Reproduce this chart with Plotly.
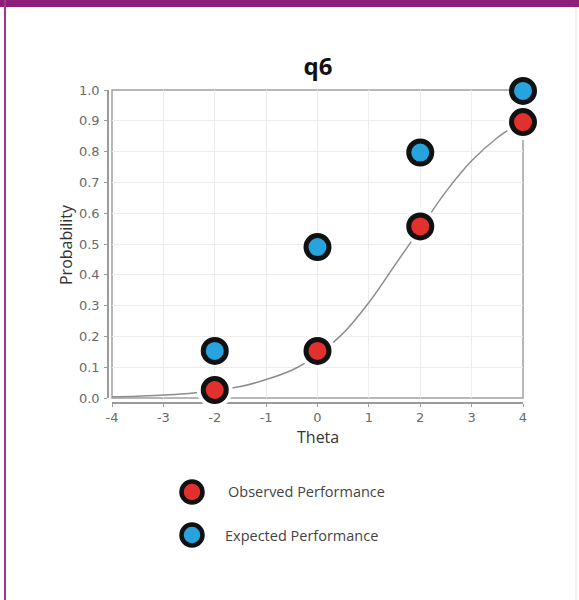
import plotly.graph_objects as go

# Item characteristic data for item q6
theta_points = [-2, 0, 2, 4]
observed = [0.026, 0.153, 0.557, 0.896]
expected = [0.153, 0.49, 0.797, 0.997]

curve_theta = [-4, -3.5, -3, -2.5, -2, -1.5, -1, -0.5, 0, 0.5, 1, 1.5, 2, 2.5, 3, 3.5, 4]
curve_prob = [0.004, 0.006, 0.010, 0.015, 0.024, 0.037, 0.060, 0.090, 0.140, 0.210,
              0.310, 0.430, 0.550, 0.670, 0.770, 0.845, 0.900]

series_names = ["Observed Performance", "Expected Performance"]
series_colors = ["#e2302f", "#27a3de"]

x_ticks = [-4, -3, -2, -1, 0, 1, 2, 3, 4]
y_ticks = [0.0, 0.1, 0.2, 0.3, 0.4, 0.5, 0.6, 0.7, 0.8, 0.9, 1.0]

W, H = 579, 600


def px(x):
    return x / W


def py(y):
    return 1 - y / H


fig = go.Figure()

# fitted curve
fig.add_trace(go.Scatter(
    x=curve_theta, y=curve_prob, mode="lines", line_shape="spline",
    line=dict(color="#8c8c8c", width=1.5), hoverinfo="skip", showlegend=False,
))

# white halo so the curve breaks around the observed points
fig.add_trace(go.Scatter(
    x=theta_points, y=observed, mode="markers",
    marker=dict(size=36, color="white", line=dict(width=0)),
    cliponaxis=False, hoverinfo="skip", showlegend=False,
))

for name, vals, col in zip(series_names, [observed, expected], series_colors):
    fig.add_trace(go.Scatter(
        x=theta_points, y=vals, mode="markers", name=name,
        marker=dict(size=23, color=col, line=dict(color="#111111", width=5)),
        cliponaxis=False, showlegend=False,
    ))

x_dom = [px(112), px(523)]
y_dom = [py(398), py(90)]

tick_font = dict(family="DejaVu Sans", size=13, color="#6a6a6a")

fig.update_layout(
    width=W, height=H,
    margin=dict(l=0, r=0, t=0, b=0),
    paper_bgcolor="white", plot_bgcolor="white",
    title=dict(text="<b>q6</b>", x=px(318), y=py(67), xanchor="center", yanchor="middle",
               font=dict(family="Open Sans", size=24, color="#111111")),
    xaxis=dict(
        domain=x_dom, range=[-4, 4], tickvals=x_ticks, ticktext=[str(v) for v in x_ticks],
        anchor="free", position=py(403), showline=True, linecolor="#9a9a9a", linewidth=1.5,
        ticks="outside", ticklen=3, tickcolor="#9a9a9a", tickfont=tick_font,
        showgrid=True, gridcolor="#ececec", gridwidth=1, zeroline=False,
        layer="below traces", automargin=False, fixedrange=True,
    ),
    yaxis=dict(
        domain=y_dom, range=[0, 1], tickvals=y_ticks, ticktext=[f"{v:.1f}" for v in y_ticks],
        anchor="free", position=px(108), showline=True, linecolor="#9a9a9a", linewidth=1.5,
        ticks="outside", ticklen=3, tickcolor="#9a9a9a", tickfont=tick_font,
        ticklabelstandoff=2,
        showgrid=True, gridcolor="#ececec", gridwidth=1, zeroline=False,
        layer="below traces", automargin=False, fixedrange=True,
    ),
    showlegend=False,
)

# plot box
fig.add_shape(type="rect", xref="paper", yref="paper",
              x0=x_dom[0], x1=x_dom[1], y0=y_dom[0], y1=y_dom[1],
              line=dict(color="#a0a0a0", width=1.5), layer="below")

# frame: purple band on top, thin rule on the left
fig.add_shape(type="rect", xref="paper", yref="paper", x0=0, x1=1, y0=py(7), y1=1,
              fillcolor="#8e1e78", line=dict(width=0), layer="above")
fig.add_shape(type="rect", xref="paper", yref="paper", x0=px(4), x1=px(6), y0=0, y1=1,
              fillcolor="#9a3a8a", line=dict(width=0), layer="above")
fig.add_shape(type="line", xref="paper", yref="paper", x0=px(576), x1=px(576), y0=0, y1=py(7),
              line=dict(color="#e4e4e4", width=1), layer="above")

# axis titles
fig.add_annotation(text="Theta", x=px(318), y=py(437), xref="paper", yref="paper",
                   showarrow=False, xanchor="center", yanchor="middle",
                   font=dict(family="Open Sans", size=16, color="#333333"))
fig.add_annotation(text="Probability", x=px(66), y=py(245), xref="paper", yref="paper",
                   showarrow=False, xanchor="center", yanchor="middle", textangle=-90,
                   font=dict(family="Open Sans", size=16, color="#333333"))

# legend
legend_rows = [(192, 492, 226), (192, 535, 223)]
for (cx, cy, tx), name, col in zip(legend_rows, series_names, series_colors):
    fig.add_shape(type="circle", xref="paper", yref="paper",
                  xsizemode="pixel", ysizemode="pixel",
                  xanchor=px(cx), yanchor=py(cy), x0=-10.5, x1=10.5, y0=-10.5, y1=10.5,
                  fillcolor=col, line=dict(color="#111111", width=4.5))
    fig.add_annotation(text=name, x=px(tx), y=py(cy), xref="paper", yref="paper",
                       showarrow=False, xanchor="left", yanchor="middle",
                       font=dict(family="Open Sans", size=14.5, color="#444444"))

fig.write_html("out.html")
